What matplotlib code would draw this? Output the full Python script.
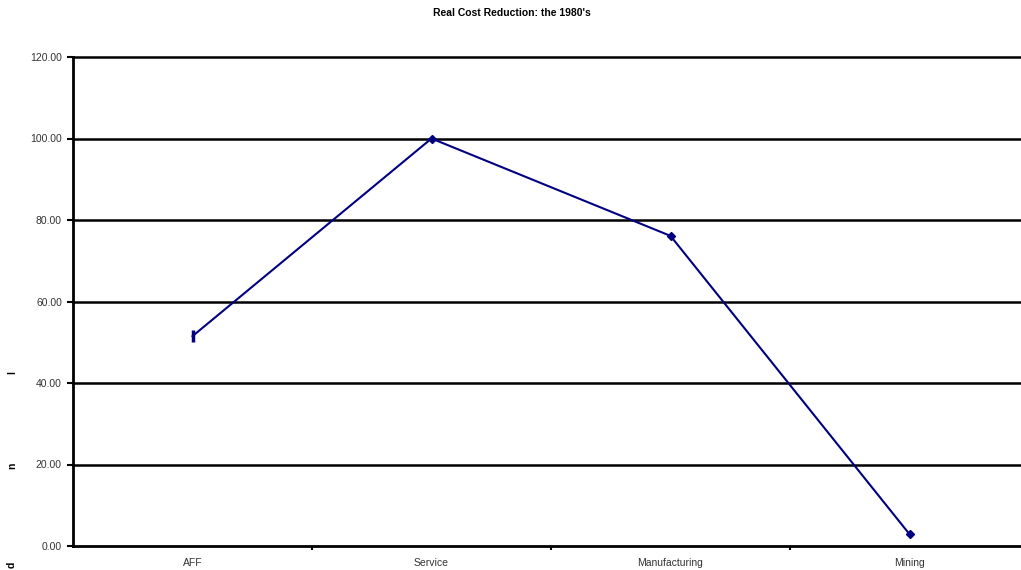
import numpy as np
import matplotlib.pyplot as plt

plt.rcParams['font.family'] = ['Liberation Sans', 'DejaVu Sans']

# data
categories = ['AFF', 'Service', 'Manufacturing', 'Mining']
values = [51.5, 100.0, 76.1, 2.9]
yticks = [0, 20, 40, 60, 80, 100, 120]

W, H = 1021, 570
fig = plt.figure(figsize=(W / 100, H / 100), dpi=100)
# axes box in pixels: left 73, right 1029 (runs past the image edge), top 57, bottom 546
ax = fig.add_axes([73 / W, (H - 546) / H, (1029 - 73) / W, (546 - 57) / H])

x = np.arange(1, len(categories) + 1)
navy = '#000080'
ax.plot(x, values, color=navy, linewidth=1.5, zorder=3)
ax.plot(x[:1], values[:1], linestyle='none', marker='|', markersize=8,
        markeredgewidth=2.5, color=navy, zorder=4)
ax.plot(x[1:], values[1:], linestyle='none', marker='D', markersize=4.5,
        color=navy, zorder=4)

ax.set_xlim(0.5, len(categories) + 0.5)
ax.set_ylim(0, 120)
ax.set_yticks(yticks)
ax.set_yticklabels(['%.2f' % v for v in yticks], fontsize=7.5, color='#333333')
ax.set_xticks(x)
ax.set_xticklabels(categories, fontsize=7.5, color='#333333')
ax.set_xticks(np.arange(1.5, len(categories), 1.0), minor=True)

ax.tick_params(axis='x', which='major', length=0, pad=9)
ax.tick_params(axis='x', which='minor', length=3, width=1.5, direction='out')
ax.tick_params(axis='y', length=4, width=1.5, direction='out', pad=4)

for v in yticks[1:]:
    ax.axhline(v, color='black', linewidth=1.8, zorder=1, clip_on=False)

for s in ['top', 'right']:
    ax.spines[s].set_visible(False)
ax.spines['left'].set_linewidth(2)
ax.spines['bottom'].set_linewidth(2)

fig.text(512 / W, 1 - 13 / H, "Real Cost Reduction: the 1980's", ha='center',
         va='center', fontsize=7.5, fontweight='bold')

# broken, widely spaced y-axis label letters
for ch, py in [('I', 373), ('n', 466), ('d', 565)]:
    fig.text(12 / W, 1 - py / H, ch, rotation=90, ha='center', va='center',
             fontsize=7.5, fontweight='bold')

fig.savefig('out.png', dpi=100)
